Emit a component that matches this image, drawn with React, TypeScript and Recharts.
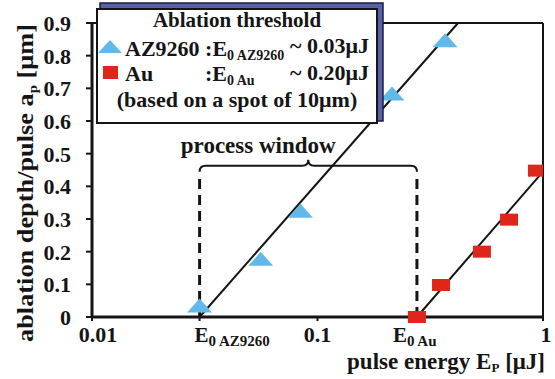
import React from 'react';
import { ComposedChart, Scatter, XAxis, YAxis, ReferenceLine, Legend } from 'recharts';

// ---- data ----
const az9260Energy = [0.03, 0.056, 0.084, 0.214, 0.368];
const az9260Depth = [0.035, 0.178, 0.325, 0.684, 0.847];
const auEnergy = [0.276, 0.353, 0.536, 0.707, 0.94];
const auDepth = [0, 0.098, 0.2, 0.298, 0.448];

const thresholdAZ = 0.03;
const thresholdAu = 0.276;

const azFitEnergy = [0.03, 0.42];
const azFitDepth = [0, 0.9];
const auFitEnergy = [0.276, 1];
const auFitDepth = [0, 0.445];

const windowDepth = 0.463;
const dashTopDepth = 0.43;

const xTickValues = [0.01, thresholdAZ, 0.1, thresholdAu, 1];
const xTickLabels = ['0.01', 'E|0 AZ9260', '0.1', 'E|0 Au', '1'];
const yTickValues = [0, 0.1, 0.2, 0.3, 0.4, 0.5, 0.6, 0.7, 0.8, 0.9];
const yTickLabels = ['0', '0.1', '0.2', '0.3', '0.4', '0.5', '0.6', '0.7', '0.8', '0.9'];

const azData = az9260Energy.map((x, i) => ({ x, y: az9260Depth[i] }));
const auData = auEnergy.map((x, i) => ({ x, y: auDepth[i] }));

const FONT = "'Liberation Serif', 'Times New Roman', serif";
const INK = '#151515';
const BLUE = '#62b8e8';
const RED = '#e0261b';

const Triangle = (p: any) => {
  const { cx, cy } = p;
  if (cx == null || cy == null) return <g />;
  return <polygon points={`${cx - 12.5},${cy + 7} ${cx + 12.5},${cy + 7} ${cx},${cy - 7}`} fill={BLUE} />;
};

const Square = (p: any) => {
  const { cx, cy } = p;
  if (cx == null || cy == null) return <g />;
  return <rect x={cx - 9} y={cy - 6} width={18} height={12} fill={RED} />;
};

const XTick = (p: any) => {
  const { x, y, index } = p;
  const label = xTickLabels[index];
  const base = y + 19;
  if (label.indexOf('|') >= 0) {
    const [main, sub] = label.split('|');
    const sx = index === 1 ? x - 5 : x - 24;
    return (
      <text x={sx} y={base} fontFamily={FONT} fontWeight="bold" fontSize={21} fill={INK}>
        {main}
        <tspan fontSize={15} dy={4}>{sub}</tspan>
      </text>
    );
  }
  const dx = index === 0 ? 6 : index === 4 ? 3 : 0;
  return (
    <text x={x + dx} y={base} textAnchor="middle" fontFamily={FONT} fontWeight="bold" fontSize={22} fill={INK}>
      {label}
    </text>
  );
};

const YTick = (p: any) => {
  const { x, y, index } = p;
  return (
    <text x={x} y={y} dy="0.36em" textAnchor="end" fontFamily={FONT} fontWeight="bold" fontSize={22} fill={INK}>
      {yTickLabels[index]}
    </text>
  );
};

const YTitle = () => (
  <text
    x={33}
    y={183}
    transform="rotate(-90 33 183)"
    textAnchor="middle"
    fontFamily={FONT}
    fontWeight="bold"
    fontSize={23}
    fill={INK}
    textLength={318}
    lengthAdjust="spacingAndGlyphs"
  >
    ablation depth/pulse a<tspan fontSize={13} dy={4}>p</tspan>
    <tspan dy={-4}> [μm]</tspan>
  </text>
);

const XTitle = () => (
  <text x={545} y={369} textAnchor="end" fontFamily={FONT} fontWeight="bold" fontSize={23} fill={INK}>
    pulse energy E<tspan fontSize={13} dy={3}>P</tspan>
    <tspan dy={-3}> [μJ]</tspan>
  </text>
);

const Brace = (p: any) => {
  const { x1, y1, x2 } = p;
  if (x1 == null) return <g />;
  const y = y1;
  const xm = (x1 + x2) / 2;
  const r = 6;
  const d = `M${x1},${y + r} Q${x1},${y} ${x1 + r},${y} L${xm - r},${y} Q${xm},${y} ${xm},${y - r} Q${xm},${y} ${xm + r},${y} L${x2 - r},${y} Q${x2},${y} ${x2},${y + r}`;
  return (
    <g>
      <path d={d} fill="none" stroke={INK} strokeWidth={2} />
      <text x={xm - 50} y={y - 13} textAnchor="middle" fontFamily={FONT} fontWeight="bold" fontSize={23} fill={INK}>
        process window
      </text>
    </g>
  );
};

const LegendBox = () => (
  <svg width={555} height={132} style={{ display: 'block', overflow: 'visible' }}>
    <rect x={100} y={3} width={283} height={118} fill="#5a60a6" stroke="#1d1d40" strokeWidth={1.5} />
    <rect x={97} y={9} width={280} height={114} fill="#fff" stroke={INK} strokeWidth={2} />
    <g fontFamily={FONT} fontWeight="bold" fill={INK}>
      <text x={237} y={27} textAnchor="middle" fontSize={21}>Ablation threshold</text>
      <polygon points="98,53 122,53 110,40" fill={BLUE} />
      <text x={125} y={56} fontSize={22}>AZ9260 :E<tspan fontSize={14} dy={4}>0 AZ9260</tspan></text>
      <text x={369} y={53} textAnchor="end" fontSize={22}>~ 0.03μJ</text>
      <rect x={103} y={66} width={15} height={13} fill={RED} />
      <text x={125} y={81} fontSize={22}>Au</text>
      <text x={205} y={81} fontSize={22}>:E<tspan fontSize={14} dy={4}>0 Au</tspan></text>
      <text x={369} y={80} textAnchor="end" fontSize={22}>~ 0.20μJ</text>
      <text x={237} y={107} textAnchor="middle" fontSize={22}>(based on a spot of 10μm)</text>
    </g>
  </svg>
);

export default function App() {
  return (
    <div style={{ position: 'absolute', left: 0, top: 0, width: 555, height: 379, background: '#fff' }}>
      <ComposedChart width={555} height={379} margin={{ top: 23, right: 12, left: 0, bottom: 0 }}>
        <XAxis
          type="number"
          dataKey="x"
          scale="log"
          domain={[0.01, 1]}
          allowDataOverflow
          ticks={xTickValues}
          interval={0}
          height={62}
          tick={<XTick />}
          tickSize={4}
          tickLine={{ stroke: INK, strokeWidth: 2 }}
          axisLine={{ stroke: INK, strokeWidth: 3 }}
        />
        <YAxis
          type="number"
          dataKey="y"
          domain={[0, 0.9]}
          ticks={yTickValues}
          interval={0}
          width={92}
          tick={<YTick />}
          tickSize={6}
          tickMargin={15}
          tickLine={{ stroke: INK, strokeWidth: 2 }}
          axisLine={{ stroke: INK, strokeWidth: 3 }}
          label={{ content: () => <YTitle /> }}
        />
        <ReferenceLine y={0.9} stroke={INK} strokeWidth={2} />
        <ReferenceLine x={1} stroke={INK} strokeWidth={2} />
        <ReferenceLine
          segment={[{ x: thresholdAZ, y: 0 }, { x: thresholdAZ, y: dashTopDepth }]}
          stroke={INK}
          strokeWidth={3}
          strokeDasharray="10 6"
        />
        <ReferenceLine
          segment={[{ x: thresholdAu, y: 0 }, { x: thresholdAu, y: dashTopDepth }]}
          stroke={INK}
          strokeWidth={3}
          strokeDasharray="10 6"
        />
        <ReferenceLine
          segment={[{ x: thresholdAZ, y: windowDepth }, { x: thresholdAu, y: windowDepth }]}
          shape={(p: any) => <Brace {...p} />}
        />
        <Scatter name="AZ9260" data={azData} shape={<Triangle />} isAnimationActive={false} />
        <Scatter name="Au" data={auData} shape={<Square />} isAnimationActive={false} />
        <ReferenceLine
          segment={[{ x: azFitEnergy[0], y: azFitDepth[0] }, { x: azFitEnergy[1], y: azFitDepth[1] }]}
          stroke={INK}
          strokeWidth={2}
        />
        <ReferenceLine
          segment={[{ x: auFitEnergy[0], y: auFitDepth[0] }, { x: auFitEnergy[1], y: auFitDepth[1] }]}
          stroke={INK}
          strokeWidth={2}
        />
        <Legend
          layout="vertical"
          align="center"
          verticalAlign="middle"
          wrapperStyle={{ position: 'absolute', left: 0, top: 0, width: 555, height: 132, pointerEvents: 'none' }}
          content={() => <LegendBox />}
        />
      </ComposedChart>
      <svg width={555} height={379} style={{ position: 'absolute', left: 0, top: 0, pointerEvents: 'none' }}>
        <XTitle />
      </svg>
    </div>
  );
}
